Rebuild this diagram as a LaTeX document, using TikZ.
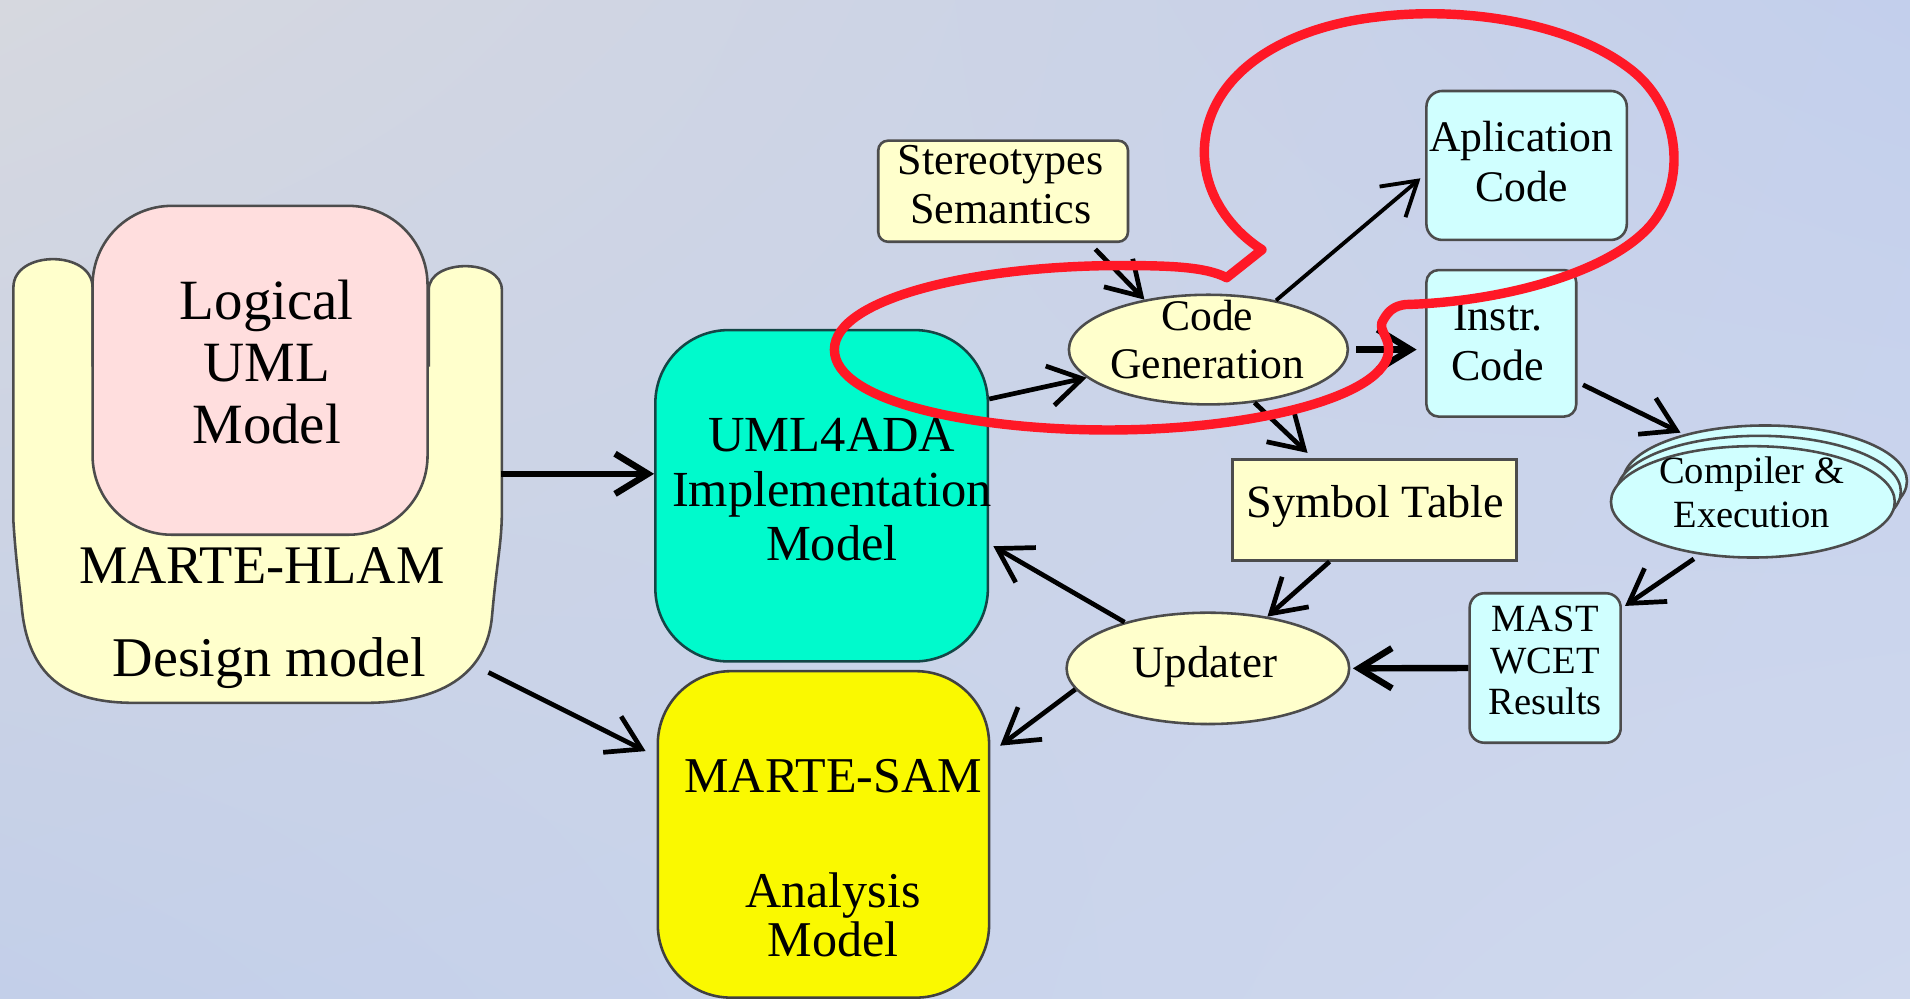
\documentclass[tikz,border=0pt]{standalone}
\usepackage{fontspec}
\setmainfont{Liberation Serif}
\usetikzlibrary{arrows.meta,shapes.geometric,shadings}

% palette
\definecolor{bgTL}{RGB}{214,216,223}
\definecolor{bgTR}{RGB}{195,207,236}
\definecolor{bgBL}{RGB}{195,207,233}
\definecolor{bgBR}{RGB}{208,217,238}
\definecolor{paleYellow}{RGB}{255,255,204}
\definecolor{palePink}{RGB}{255,222,222}
\definecolor{aqua}{RGB}{0,250,204}
\definecolor{brightYellow}{RGB}{250,249,0}
\definecolor{paleCyan}{RGB}{208,255,255}
\definecolor{tealEdge}{RGB}{20,70,70}
\definecolor{markRed}{RGB}{255,24,38}

\newcommand{\setfs}[2]{\fontsize{#1pt}{#2pt}\selectfont}

\tikzset{
  shapeline/.style={draw=black!70, line width=0.6pt},
  rbox/.style={shapeline, rectangle, inner sep=0pt},
  oval/.style={shapeline, ellipse, inner sep=0pt},
  lbl/.style={align=center, inner sep=0pt, text=black},
  arr/.style={draw=black, line width=1.1pt,
    -{Straight Barb[length=2.7mm,width=3.3mm]}},
  thickarr/.style={arr, line width=1.5pt},
  redloop/.style={draw=markRed, line width=2.2pt, line join=round, line cap=round}
}

\begin{document}
\begin{tikzpicture}[x=0.1mm, y=-0.1mm]
  \useasboundingbox (0,0) rectangle (1568,820);
  \shade[upper left=bgTL, upper right=bgTR, lower left=bgBL, lower right=bgBR]
    (0,0) rectangle (1568,820);

  % ---- MARTE-HLAM design model (armchair-like outline) ----
  \path[shapeline, fill=paleYellow]
    (76,300) -- (76,236) .. controls (76,205) and (11,205) .. (11,236)
    -- (11,428) .. controls (13,460) and (16,480) .. (18,500)
    .. controls (24,560) and (60,577) .. (110,577)
    -- (300,577) .. controls (360,577) and (400,555) .. (404,505)
    .. controls (408,460) and (412,445) .. (412,420)
    -- (412,238) .. controls (412,212) and (352,212) .. (352,238)
    -- (352,300) -- cycle;
  \coordinate (dmE) at (411,389);
  \coordinate (dmSE) at (401,552);

  \node[rbox, fill=palePink, rounded corners=6.5mm,
        minimum width=27.5mm, minimum height=27mm] (logical) at (213.5,304) {};
  \node[lbl, font=\setfs{13.3}{14.5}] (tLogical) at (219,297) {Logical\\UML\\Model};
  \node[lbl, font=\setfs{12.7}{14}] (tHlam) at (215,464) {MARTE-HLAM};
  \node[lbl, font=\setfs{13.1}{14}] (tDesign) at (221,544) {Design model};

  % ---- implementation and analysis models ----
  \node[rbox, draw=tealEdge, fill=aqua, rounded corners=6mm,
        minimum width=27.3mm, minimum height=27.2mm] (uml) at (674.5,407) {};
  \node[lbl, font=\setfs{11.8}{12.7}] (tUml) at (683,402)
    {UML4ADA\\Implementation\\Model};

  \node[rbox, draw=black!75, fill=brightYellow, rounded corners=6mm,
        minimum width=27.2mm, minimum height=26.8mm] (sam) at (676,685) {};
  \node[lbl, font=\setfs{11.7}{11.4}] (tSam) at (684,704.5)
    {MARTE-SAM\\[15.3pt]Analysis\\Model};

  % ---- code generation chain ----
  \node[rbox, fill=paleYellow, rounded corners=0.8mm,
        minimum width=20.5mm, minimum height=8.3mm] (stereo) at (823.5,157) {};
  \node[lbl, font=\setfs{10.3}{11.5}] (tStereo) at (821.6,151.8)
    {Stereotypes\\Semantics};

  \node[oval, fill=paleYellow, minimum width=22.9mm, minimum height=9mm]
    (cg) at (992,287) {};
  \node[lbl, font=\setfs{10.2}{11.4}] (tCg) at (991,278.8) {Code\\Generation};

  \node[rbox, fill=paleCyan, rounded corners=1.3mm,
        minimum width=16.45mm, minimum height=12.23mm] (app) at (1253.25,135.85) {};
  \node[lbl, font=\setfs{10.2}{11.7}] (tApp) at (1249,132.8) {Aplication\\Code};

  \node[rbox, fill=paleCyan, rounded corners=1mm,
        minimum width=12.3mm, minimum height=12.03mm] (instr) at (1232.5,281.85) {};
  \node[lbl, font=\setfs{10.3}{11.7}] (tInstr) at (1229.7,280) {Instr.\\Code};

  \node[rbox, fill=paleYellow, minimum width=23.3mm, minimum height=8.3mm]
    (sym) at (1128.5,418.5) {};
  \node[lbl, font=\setfs{10.8}{12}] (tSym) at (1129,416) {Symbol Table};

  % stacked ellipses for compilation and execution
  \node[oval, fill=paleCyan, minimum width=23.3mm, minimum height=9.14mm]
    (compC) at (1449,395) {};
  \node[oval, fill=paleCyan, minimum width=23.3mm, minimum height=9.14mm]
    (compB) at (1444,403.5) {};
  \node[oval, fill=paleCyan, minimum width=23.3mm, minimum height=9.14mm]
    (comp) at (1439,412) {};
  \node[lbl, font=\setfs{9}{10.2}] (tComp) at (1438,404) {Compiler \&\\Execution};

  \node[rbox, fill=paleCyan, rounded corners=1.2mm,
        minimum width=12.4mm, minimum height=12.27mm] (mast) at (1268.5,548.4) {};
  \node[lbl, font=\setfs{9}{9.7}] (tMast) at (1268.5,542.3) {MAST\\WCET\\Results};

  \node[oval, fill=paleYellow, minimum width=23.2mm, minimum height=9.14mm]
    (upd) at (991.6,548.7) {};
  \node[lbl, font=\setfs{10.5}{12}] (tUpd) at (989,547) {Updater};

  % ---- connectors ----
  \draw[thickarr] (dmE) -- (dmE -| uml.west);
  \draw[arr, shorten >=1mm] (dmSE) -- (sam.155);
  \draw[arr] (uml.30) -- (cg.193);
  \draw[arr, shorten <=0.7mm] (stereo.-31) -- (cg.142);
  \draw[arr, line width=0.9pt, shorten >=0.5mm] (cg.36) -- (app.185);
  \draw[thickarr, shorten <=0.6mm, shorten >=0.7mm] (cg.east) -- (cg.east -| instr.west);
  \draw[arr, shorten >=0.6mm] (cg.-49) -- (sym.140);
  \draw[arr, shorten <=0.5mm, shorten >=0.3mm] (instr.-27) -- (compC.150);
  \draw[arr, shorten <=0.6mm, shorten >=0.3mm] (comp.-135) -- (mast.38);
  \draw[thickarr, shorten >=0.2mm] (mast.west) -- (upd.east);
  \draw[arr] (sym.-131) -- (upd.41);
  \draw[arr, shorten >=0.4mm] (upd.151) -- (uml.-16.5);
  \draw[arr, shorten >=1mm] (upd.189) -- (sam.26);

  % ---- hand-drawn red highlight: oval round code generation, loop round the code boxes ----
  \draw[redloop]
    (1036,205) -- (1007,228)
    .. controls (990,219) and (960,218) .. (920,218)
    .. controls (800,218) and (685,245) .. (685,287)
    .. controls (685,330) and (800,353) .. (910,353)
    .. controls (1030,353) and (1140,325) .. (1140,287)
    .. controls (1140,275) and (1130,270) .. (1136,262)
    .. controls (1140,255) and (1145,251) .. (1154,250)
    .. controls (1230,248) and (1320,225) .. (1355,185)
    .. controls (1385,150) and (1380,90) .. (1340,58)
    .. controls (1290,18) and (1200,5) .. (1130,14)
    .. controls (1060,22) and (1000,55) .. (990,110)
    .. controls (983,150) and (1005,185) .. (1036,205) -- cycle;
\end{tikzpicture}
\end{document}
